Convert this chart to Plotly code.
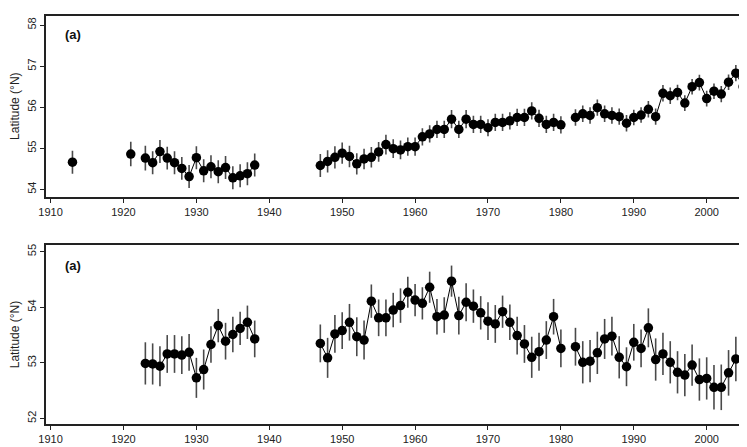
import plotly.graph_objects as go

# ---- Data (None = missing year -> line break) ----
years_a = [1913, 1914, 1921, 1922,
           1923, 1924, 1925, 1926, 1927, 1928, 1929, 1930, 1931, 1932, 1933, 1934, 1935, 1936, 1937, 1938,
           1939,
           1947, 1948, 1949, 1950, 1951, 1952, 1953, 1954, 1955, 1956, 1957, 1958, 1959, 1960,
           1961, 1962, 1963, 1964, 1965, 1966, 1967, 1968, 1969, 1970, 1971, 1972, 1973, 1974, 1975,
           1976, 1977, 1978, 1979, 1980, 1981,
           1982, 1983, 1984, 1985, 1986, 1987, 1988, 1989, 1990, 1991, 1992, 1993, 1994, 1995, 1996,
           1997, 1998, 1999, 2000, 2001, 2002, 2003, 2004, 2005, 2006]
lat_a = [54.66, None, 54.86, None,
         54.76, 54.65, 54.92, 54.76, 54.65, 54.51, 54.31, 54.77, 54.45, 54.55, 54.43, 54.53, 54.28, 54.33, 54.38, 54.59,
         None,
         54.58, 54.68, 54.78, 54.88, 54.80, 54.62, 54.74, 54.78, 54.91, 55.09, 54.99, 54.96, 55.04, 55.04,
         55.28, 55.35, 55.46, 55.46, 55.71, 55.46, 55.71, 55.58, 55.58, 55.50, 55.63, 55.63, 55.67, 55.75, 55.75,
         55.91, 55.73, 55.58, 55.63, 55.57, None,
         55.75, 55.84, 55.80, 55.99, 55.84, 55.80, 55.77, 55.61, 55.75, 55.81, 55.95, 55.77, 56.34, 56.28, 56.36,
         56.10, 56.50, 56.60, 56.21, 56.39, 56.32, 56.61, 56.83, 56.50, 56.85]
err_a = [0.28, None, 0.30, None,
         0.30, 0.28, 0.28, 0.28, 0.28, 0.28, 0.28, 0.28, 0.28, 0.28, 0.28, 0.28, 0.28, 0.28, 0.28, 0.28,
         None,
         0.28, 0.27, 0.27, 0.26, 0.26, 0.26, 0.25, 0.25, 0.24, 0.24, 0.23, 0.23, 0.22, 0.22,
         0.21, 0.21, 0.21, 0.21, 0.22, 0.21, 0.22, 0.21, 0.21, 0.21, 0.21, 0.21, 0.21, 0.21, 0.21,
         0.21, 0.21, 0.21, 0.21, 0.21, None,
         0.20, 0.20, 0.20, 0.20, 0.20, 0.20, 0.20, 0.20, 0.19, 0.19, 0.20, 0.20, 0.20, 0.20, 0.19,
         0.19, 0.19, 0.19, 0.19, 0.19, 0.20, 0.19, 0.20, 0.20, 0.20]

years_b = [1923, 1924, 1925, 1926, 1927, 1928, 1929, 1930, 1931, 1932, 1933, 1934, 1935, 1936, 1937, 1938,
           1939,
           1947, 1948, 1949, 1950, 1951, 1952, 1953, 1954, 1955, 1956, 1957, 1958, 1959, 1960,
           1961, 1962, 1963, 1964, 1965, 1966, 1967, 1968, 1969, 1970, 1971, 1972, 1973, 1974, 1975,
           1976, 1977, 1978, 1979, 1980, 1981,
           1982, 1983, 1984, 1985, 1986, 1987, 1988, 1989, 1990, 1991, 1992, 1993, 1994, 1995, 1996,
           1997, 1998, 1999, 2000, 2001, 2002, 2003, 2004, 2005, 2006]
lat_b = [52.99, 52.98, 52.94, 53.16, 53.16, 53.14, 53.19, 52.73, 52.88, 53.33, 53.67, 53.39, 53.51, 53.62, 53.73, 53.43,
         None,
         53.35, 53.09, 53.52, 53.58, 53.73, 53.47, 53.41, 54.11, 53.81, 53.81, 53.95, 54.03, 54.27, 54.13,
         54.07, 54.36, 53.83, 53.86, 54.47, 53.85, 54.09, 54.02, 53.90, 53.75, 53.70, 53.92, 53.73, 53.49, 53.34,
         53.10, 53.20, 53.41, 53.83, 53.26, None,
         53.29, 53.01, 53.03, 53.18, 53.43, 53.48, 53.10, 52.93, 53.37, 53.26, 53.63, 53.06, 53.16, 53.01, 52.83,
         52.78, 52.96, 52.70, 52.72, 52.56, 52.56, 52.82, 53.07, 53.07, 53.05]
err_b = [0.38, 0.37, 0.36, 0.34, 0.34, 0.34, 0.33, 0.36, 0.36, 0.33, 0.30, 0.33, 0.32, 0.30, 0.30, 0.33,
         None,
         0.34, 0.36, 0.34, 0.33, 0.33, 0.35, 0.35, 0.30, 0.33, 0.33, 0.31, 0.31, 0.28, 0.29,
         0.29, 0.28, 0.32, 0.32, 0.28, 0.34, 0.34, 0.30, 0.30, 0.34, 0.34, 0.29, 0.32, 0.34, 0.34,
         0.37, 0.34, 0.34, 0.32, 0.34, None,
         0.34, 0.38, 0.38, 0.38, 0.36, 0.35, 0.38, 0.35, 0.33, 0.34, 0.35, 0.38, 0.38, 0.38, 0.38,
         0.38, 0.37, 0.38, 0.38, 0.40, 0.41, 0.41, 0.40, 0.40, 0.40]

x_ticks = [1910, 1920, 1930, 1940, 1950, 1960, 1970, 1980, 1990, 2000]
y_ticks_a = [54, 55, 56, 57, 58]
y_ticks_b = [52, 53, 54, 55]
panel_label = "(a)"
y_title = "Latitude (°N)"

# The page body has an 8px offset; size the figure to fill the remaining window.
OFF = 8
W, H = 747 - OFF, 447 - OFF
FONT = "Liberation Sans, Arial, sans-serif"

def px(x):
    return (x - OFF) / W

def py(y):
    return 1 - (y - OFF) / H

fig = go.Figure()

def add_series(xs, ys, es, xa, ya):
    fig.add_trace(go.Scatter(
        x=xs, y=ys, xaxis=xa, yaxis=ya, mode="lines+markers",
        line=dict(color="black", width=1),
        marker=dict(color="black", size=9.5, line=dict(width=0)),
        error_y=dict(type="data", array=es, visible=True, color="#4a4a4a",
                     thickness=1.6, width=0),
        showlegend=False, connectgaps=False,
    ))

add_series(years_a, lat_a, err_a, "x", "y")
add_series(years_b, lat_b, err_b, "x2", "y2")

xr = [1909.37, 2005.53]

def xaxis_cfg(anchor):
    return dict(
        domain=[px(46), 1.0], range=xr, anchor=anchor, automargin=False,
        tickmode="array", tickvals=x_ticks, ticks="outside", ticklen=4,
        tickwidth=1, tickcolor="#222",
        showline=True, linecolor="#222", linewidth=1.6, mirror=True,
        showgrid=False, zeroline=False,
        tickfont=dict(family=FONT, size=11, color="#222"),
    )

def yaxis_cfg(anchor, dom, rng, tv):
    return dict(
        domain=dom, range=rng, anchor=anchor, automargin=False,
        tickmode="array", tickvals=tv, ticks="outside", ticklen=4,
        tickwidth=1, tickcolor="#222", tickangle=-90,
        showline=True, linecolor="#222", linewidth=1.6,
        showgrid=False, zeroline=False,
        tickfont=dict(family=FONT, size=11, color="#222"),
        title=dict(text=y_title, font=dict(family=FONT, size=12, color="#222"), standoff=5),
    )

top_dom = [py(196.7), py(15.7)]
bot_dom = [py(424), py(245)]

fig.update_layout(
    width=W, height=H,
    margin=dict(l=0, r=0, t=0, b=0, autoexpand=False),
    paper_bgcolor="white", plot_bgcolor="white",
    xaxis=xaxis_cfg("y"),
    yaxis=yaxis_cfg("x", top_dom, [53.82, 58.23], y_ticks_a),
    xaxis2=xaxis_cfg("y2"),
    yaxis2=yaxis_cfg("x2", bot_dom, [51.9, 55.12], y_ticks_b),
    annotations=[
        dict(text="<b>" + panel_label + "</b>", xref="paper", yref="paper",
             x=px(63), y=py(34), xanchor="left", yanchor="middle",
             showarrow=False, font=dict(family=FONT, size=13, color="#111")),
        dict(text="<b>" + panel_label + "</b>", xref="paper", yref="paper",
             x=px(63), y=py(265), xanchor="left", yanchor="middle",
             showarrow=False, font=dict(family=FONT, size=13, color="#111")),
    ],
)

fig.write_html("out.html")
